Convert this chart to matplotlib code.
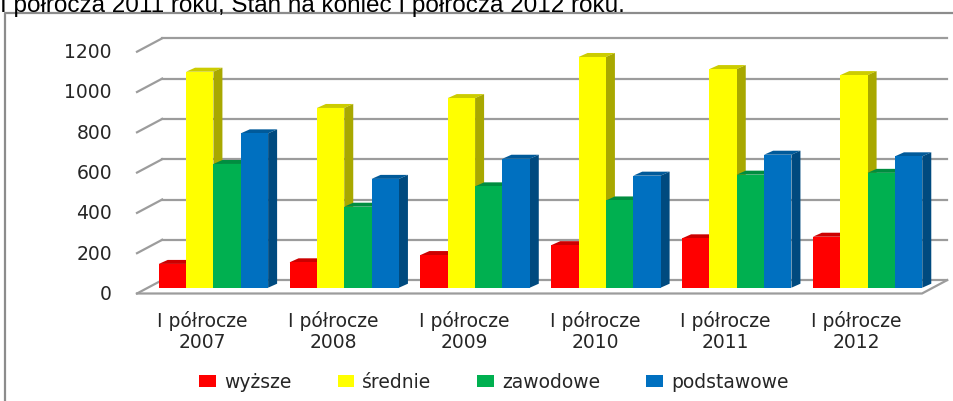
import matplotlib
matplotlib.use("Agg")
import matplotlib.pyplot as plt
import numpy as np
from matplotlib.patches import Polygon, Patch
from matplotlib.lines import Line2D
from matplotlib.transforms import offset_copy

# --- Data ---
categories = ["I półrocze\n2007", "I półrocze\n2008", "I półrocze\n2009",
              "I półrocze\n2010", "I półrocze\n2011", "I półrocze\n2012"]
series_names = ["wyższe", "średnie", "zawodowe", "podstawowe"]
wyzsze = [118, 126, 162, 211, 245, 253]
srednie = [1072, 892, 941, 1145, 1085, 1055]
zawodowe = [614, 402, 503, 433, 561, 570]
podstawowe = [766, 540, 640, 556, 660, 652]
yticks = [0, 200, 400, 600, 800, 1000, 1200]

colors = ["#ff0000", "#ffff00", "#00b050", "#0070c0"]
TEXT = "#262626"
GRID = "#9c9c9c"
FONT = "DejaVu Sans"
FS = 13.5

# pseudo-3D offsets in pixels
BACK = (14.2, 7.6)     # bar plane -> back wall
FRONT = (-11.0, -5.8)  # bar plane -> front edge of the floor
BAR_DEPTH = (9.0, 4.0)

fig = plt.figure(figsize=(9.54, 4.02), dpi=100)
ax = fig.add_axes([148 / 954, 113.3 / 402, 785 / 954, 241.8 / 402])
ax.set_xlim(-0.5, len(categories) - 0.5)
ax.set_ylim(0, 1200)
ax.set_axis_off()


def shifted(x, y, dx, dy):
    px, py = ax.transData.transform((x, y))
    return ax.transData.inverted().transform((px + dx, py + dy))


# back wall grid + left side lines
x_lo, x_hi = ax.get_xlim()
for v in yticks:
    b0 = shifted(x_lo, v, *BACK)
    b1 = shifted(x_hi, v, *BACK)
    f0 = shifted(x_lo, v, *FRONT)
    ax.plot([b0[0], b1[0]], [b0[1], b1[1]], color=GRID, lw=1.6, clip_on=False, zorder=1)
    ax.plot([f0[0], b0[0]], [f0[1], b0[1]], color=GRID, lw=1.6, clip_on=False, zorder=1)
    ax.text(x_lo, v, str(v), transform=offset_copy(ax.transData, fig, x=-36, y=FRONT[1], units="dots"),
            ha="right", va="center", fontsize=FS, color=TEXT, family=FONT)

# floor front edge and right edge
f0 = shifted(x_lo, 0, *FRONT)
f1 = shifted(x_hi, 0, *FRONT)
b1 = shifted(x_hi, 0, *BACK)
ax.plot([f0[0], f1[0], b1[0]], [f0[1], f1[1], b1[1]], color=GRID, lw=1.6, clip_on=False, zorder=1)


def shade(c, f):
    rgb = np.array(matplotlib.colors.to_rgb(c))
    return tuple(rgb * f)


# bars
values = [wyzsze, srednie, zawodowe, podstawowe]
w = 0.209
x = np.arange(len(categories))
for k, (vals, c) in enumerate(zip(values, colors)):
    xs = x + (k - 1.5) * w
    z = 2 + k
    ax.bar(xs, vals, width=w, color=c, zorder=z + 0.5, clip_on=False)
    for xc, h in zip(xs, vals):
        x0, x1 = xc - w / 2, xc + w / 2
        top = [(x0, h), (x1, h), tuple(shifted(x1, h, *BAR_DEPTH)), tuple(shifted(x0, h, *BAR_DEPTH))]
        side = [(x1, 0), (x1, h), tuple(shifted(x1, h, *BAR_DEPTH)), tuple(shifted(x1, 0, *BAR_DEPTH))]
        ax.add_patch(Polygon(top, closed=True, facecolor=shade(c, 0.8), edgecolor="none", zorder=z, clip_on=False))
        ax.add_patch(Polygon(side, closed=True, facecolor=shade(c, 0.66), edgecolor="none", zorder=z, clip_on=False))

# category labels
for i, lab in enumerate(categories):
    ax.text(i, 0, lab, transform=offset_copy(ax.transData, fig, x=FRONT[0], y=-43, units="dots"),
            ha="center", va="center", multialignment="center", linespacing=1.1,
            fontsize=FS, color=TEXT, family=FONT)

# legend
handles = [Patch(facecolor=c, edgecolor="none") for c in colors]
fig.legend(handles, series_names, loc="center", bbox_to_anchor=(494 / 954, 1 - 383 / 402),
           ncol=4, frameon=False, handlelength=0.9, handleheight=0.55,
           handletextpad=0.42, columnspacing=2.45,
           prop={"family": FONT, "size": FS}, labelcolor=TEXT)

# chart frame (left and top border)
fig.add_artist(Line2D([5 / 954, 5 / 954, 1.0], [0.0, 1 - 13.8 / 402, 1 - 13.8 / 402],
                      transform=fig.transFigure, color="#8c8c8c", lw=1.6))

# cut-off caption above the chart
fig.text(0.0, 1 - 12.3 / 402, "I półrocza 2011 roku, Stan na koniec I półrocza 2012 roku.",
         ha="left", va="baseline", fontsize=17.5, color="black", family="Liberation Sans")

fig.savefig("out.png", dpi=100, facecolor="white")
